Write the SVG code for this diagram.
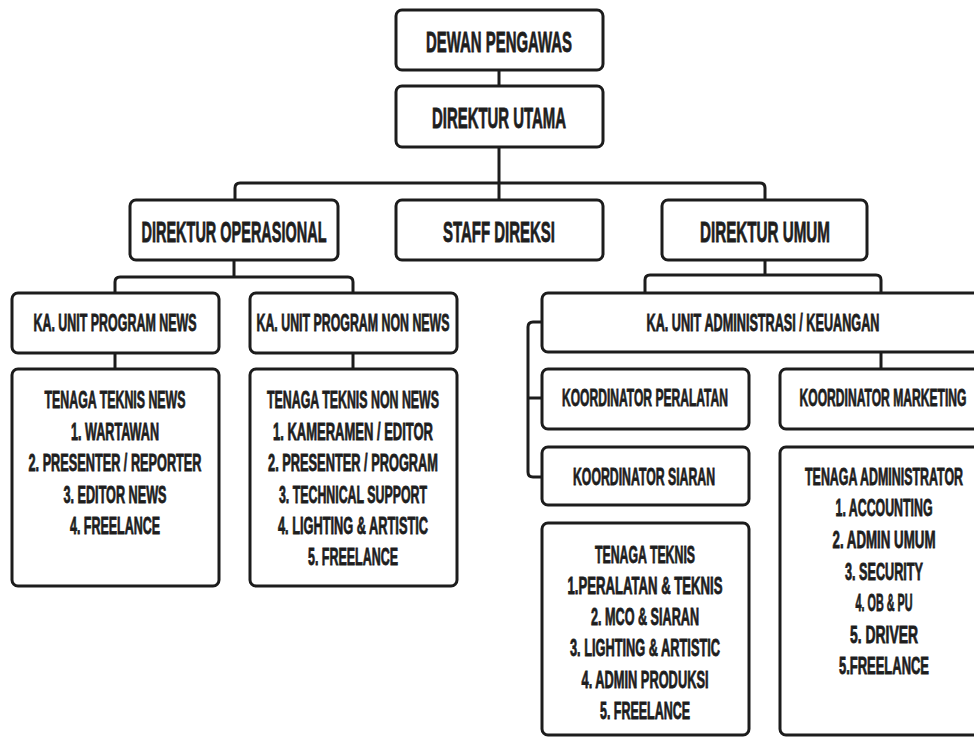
<svg xmlns="http://www.w3.org/2000/svg" width="974" height="738" viewBox="0 0 974 738">
<style>
.box{fill:#fff;stroke:#1c1c1c;stroke-width:3}
.c{fill:none;stroke:#1c1c1c;stroke-width:3;stroke-linejoin:round}
text{font-family:"Liberation Sans Narrow","Liberation Sans",Arial,sans-serif;font-weight:bold;fill:#1e1e1e;stroke:#1e1e1e;stroke-width:0.5;text-anchor:middle}
.l{font-size:18.2px}
.s{font-size:14.5px}
</style>
<rect width="974" height="738" fill="#fff"/>
<g id="connectors">
<path class="c" d="M499,70V86"/>
<path class="c" d="M499,147V200"/>
<path class="c" d="M235,200V188Q235,183 240,183H760Q765,183 765,188V200"/>
<path class="c" d="M234,260V277"/>
<path class="c" d="M115,293V282Q115,277 120,277H348Q353,277 353,282V293"/>
<path class="c" d="M765,260V275"/>
<path class="c" d="M645,293V280Q645,275 650,275H876Q881,275 881,280V293"/>
<path class="c" d="M115,353V369"/>
<path class="c" d="M353,353V369"/>
<path class="c" d="M881,352V369"/>
<path class="c" d="M542,322H533Q528,322 528,327V472Q528,477 533,477H542"/>
<path class="c" d="M528,398H542"/>
</g>
<g id="dewan-pengawas"><rect class="box" x="396" y="10" width="207" height="60" rx="6"/><text class="l" transform="translate(499,52) scale(1,1.65)" textLength="146" lengthAdjust="spacingAndGlyphs">DEWAN PENGAWAS</text></g>
<g id="direktur-utama"><rect class="box" x="396" y="86" width="207" height="61" rx="6"/><text class="l" transform="translate(499,128) scale(1,1.65)" textLength="134" lengthAdjust="spacingAndGlyphs">DIREKTUR UTAMA</text></g>
<g id="direktur-operasional"><rect class="box" x="130" y="200" width="208" height="60" rx="6"/><text class="l" transform="translate(234,242) scale(1,1.65)" textLength="185" lengthAdjust="spacingAndGlyphs">DIREKTUR OPERASIONAL</text></g>
<g id="staff-direksi"><rect class="box" x="396" y="200" width="207" height="60" rx="6"/><text class="l" transform="translate(499,242) scale(1,1.65)" textLength="112" lengthAdjust="spacingAndGlyphs">STAFF DIREKSI</text></g>
<g id="direktur-umum"><rect class="box" x="662" y="200" width="205" height="60" rx="6"/><text class="l" transform="translate(765,242) scale(1,1.65)" textLength="130" lengthAdjust="spacingAndGlyphs">DIREKTUR UMUM</text></g>
<g id="ka-unit-news"><rect class="box" x="12" y="293" width="207" height="60" rx="6"/><text class="s" transform="translate(115,331) scale(1,1.65)" textLength="163" lengthAdjust="spacingAndGlyphs">KA. UNIT PROGRAM NEWS</text></g>
<g id="ka-unit-non-news"><rect class="box" x="250" y="293" width="207" height="60" rx="6"/><text class="s" transform="translate(353,331) scale(1,1.65)" textLength="193" lengthAdjust="spacingAndGlyphs">KA. UNIT PROGRAM NON NEWS</text></g>
<g id="ka-unit-admin"><rect class="box" x="542" y="293" width="450" height="59" rx="6"/><text class="s" transform="translate(763,331) scale(1,1.65)" textLength="233" lengthAdjust="spacingAndGlyphs">KA. UNIT ADMINISTRASI / KEUANGAN</text></g>
<g id="koordinator-peralatan"><rect class="box" x="542" y="369" width="207" height="60" rx="6"/><text class="s" transform="translate(645,406) scale(1,1.65)" textLength="166" lengthAdjust="spacingAndGlyphs">KOORDINATOR PERALATAN</text></g>
<g id="koordinator-marketing"><rect class="box" x="780" y="369" width="212" height="60" rx="6"/><text class="s" transform="translate(883,406) scale(1,1.65)" textLength="167" lengthAdjust="spacingAndGlyphs">KOORDINATOR MARKETING</text></g>
<g id="koordinator-siaran"><rect class="box" x="542" y="447" width="207" height="58" rx="6"/><text class="s" transform="translate(644,485) scale(1,1.65)" textLength="142" lengthAdjust="spacingAndGlyphs">KOORDINATOR SIARAN</text></g>
<g id="tenaga-teknis-news"><rect class="box" x="12" y="369" width="207" height="217" rx="6"/>
<text class="s" transform="translate(115,408) scale(1,1.65)" textLength="141" lengthAdjust="spacingAndGlyphs">TENAGA TEKNIS NEWS</text>
<text class="s" transform="translate(115,440) scale(1,1.65)" textLength="88" lengthAdjust="spacingAndGlyphs">1. WARTAWAN</text>
<text class="s" transform="translate(115,471) scale(1,1.65)" textLength="173" lengthAdjust="spacingAndGlyphs">2. PRESENTER / REPORTER</text>
<text class="s" transform="translate(115,503) scale(1,1.65)" textLength="103" lengthAdjust="spacingAndGlyphs">3. EDITOR NEWS</text>
<text class="s" transform="translate(115,534) scale(1,1.65)" textLength="90" lengthAdjust="spacingAndGlyphs">4. FREELANCE</text></g>
<g id="tenaga-teknis-non-news"><rect class="box" x="250" y="369" width="207" height="217" rx="6"/>
<text class="s" transform="translate(353,408) scale(1,1.65)" textLength="172" lengthAdjust="spacingAndGlyphs">TENAGA TEKNIS NON NEWS</text>
<text class="s" transform="translate(353,440) scale(1,1.65)" textLength="160" lengthAdjust="spacingAndGlyphs">1. KAMERAMEN / EDITOR</text>
<text class="s" transform="translate(353,471) scale(1,1.65)" textLength="170" lengthAdjust="spacingAndGlyphs">2. PRESENTER / PROGRAM</text>
<text class="s" transform="translate(353,503) scale(1,1.65)" textLength="148" lengthAdjust="spacingAndGlyphs">3. TECHNICAL SUPPORT</text>
<text class="s" transform="translate(353,534) scale(1,1.65)" textLength="150" lengthAdjust="spacingAndGlyphs">4. LIGHTING &amp; ARTISTIC</text>
<text class="s" transform="translate(353,565) scale(1,1.65)" textLength="90" lengthAdjust="spacingAndGlyphs">5. FREELANCE</text></g>
<g id="tenaga-teknis"><rect class="box" x="542" y="523" width="207" height="212" rx="6"/>
<text class="s" transform="translate(645,563) scale(1,1.65)" textLength="100" lengthAdjust="spacingAndGlyphs">TENAGA TEKNIS</text>
<text class="s" transform="translate(645,594) scale(1,1.65)" textLength="155" lengthAdjust="spacingAndGlyphs">1.PERALATAN &amp; TEKNIS</text>
<text class="s" transform="translate(645,625) scale(1,1.65)" textLength="108" lengthAdjust="spacingAndGlyphs">2. MCO &amp; SIARAN</text>
<text class="s" transform="translate(645,656) scale(1,1.65)" textLength="150" lengthAdjust="spacingAndGlyphs">3. LIGHTING &amp; ARTISTIC</text>
<text class="s" transform="translate(645,688) scale(1,1.65)" textLength="127" lengthAdjust="spacingAndGlyphs">4. ADMIN PRODUKSI</text>
<text class="s" transform="translate(645,719) scale(1,1.65)" textLength="90" lengthAdjust="spacingAndGlyphs">5. FREELANCE</text></g>
<g id="tenaga-administrator"><rect class="box" x="780" y="447" width="212" height="288" rx="6"/>
<text class="s" transform="translate(884,485) scale(1,1.65)" textLength="158" lengthAdjust="spacingAndGlyphs">TENAGA ADMINISTRATOR</text>
<text class="s" transform="translate(884,516) scale(1,1.65)" textLength="97" lengthAdjust="spacingAndGlyphs">1. ACCOUNTING</text>
<text class="s" transform="translate(884,548) scale(1,1.65)" textLength="103" lengthAdjust="spacingAndGlyphs">2. ADMIN UMUM</text>
<text class="s" transform="translate(884,580) scale(1,1.65)" textLength="78" lengthAdjust="spacingAndGlyphs">3. SECURITY</text>
<text class="s" transform="translate(884,611) scale(1,1.65)" textLength="57" lengthAdjust="spacingAndGlyphs">4. OB &amp; PU</text>
<text class="s" transform="translate(884,643) scale(1,1.65)" textLength="68" lengthAdjust="spacingAndGlyphs">5. DRIVER</text>
<text class="s" transform="translate(884,674) scale(1,1.65)" textLength="90" lengthAdjust="spacingAndGlyphs">5.FREELANCE</text></g>
</svg>
